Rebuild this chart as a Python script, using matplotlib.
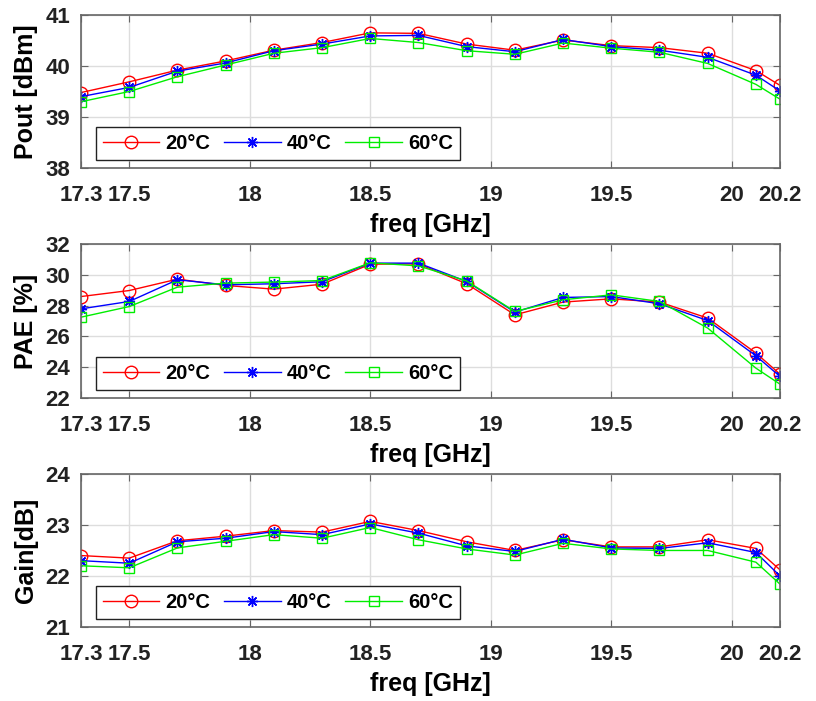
import matplotlib
matplotlib.use('Agg')
import matplotlib.pyplot as plt

# frequency points [GHz]
freq = [17.3, 17.5, 17.7, 17.9, 18.1, 18.3, 18.5, 18.7, 18.9, 19.1, 19.3, 19.5, 19.7, 19.9, 20.1, 20.2]

# Pout [dBm]
pout_20 = [39.48, 39.69, 39.92, 40.10, 40.31, 40.46, 40.65, 40.64, 40.43, 40.31, 40.51, 40.40, 40.36, 40.25, 39.91, 39.62]
pout_40 = [39.40, 39.58, 39.90, 40.06, 40.30, 40.43, 40.59, 40.60, 40.38, 40.28, 40.52, 40.38, 40.31, 40.17, 39.82, 39.51]
pout_60 = [39.30, 39.50, 39.79, 40.02, 40.25, 40.36, 40.54, 40.46, 40.30, 40.23, 40.45, 40.35, 40.27, 40.05, 39.64, 39.35]

# PAE [%]
pae_20 = [28.59, 28.98, 29.72, 29.31, 29.07, 29.39, 30.69, 30.71, 29.42, 27.40, 28.23, 28.44, 28.23, 27.19, 24.92, 23.55]
pae_40 = [27.79, 28.27, 29.68, 29.35, 29.42, 29.55, 30.76, 30.76, 29.57, 27.58, 28.53, 28.59, 28.12, 27.03, 24.74, 23.40]
pae_60 = [27.25, 27.94, 29.20, 29.46, 29.53, 29.63, 30.78, 30.58, 29.60, 27.62, 28.38, 28.70, 28.27, 26.54, 23.94, 22.90]

# Gain [dB]
gain_20 = [22.40, 22.35, 22.69, 22.78, 22.89, 22.86, 23.07, 22.89, 22.67, 22.50, 22.71, 22.57, 22.57, 22.71, 22.54, 22.12]
gain_40 = [22.30, 22.25, 22.67, 22.74, 22.87, 22.81, 23.02, 22.84, 22.59, 22.48, 22.72, 22.55, 22.54, 22.65, 22.46, 22.00]
gain_60 = [22.20, 22.16, 22.55, 22.68, 22.81, 22.74, 22.95, 22.71, 22.53, 22.41, 22.64, 22.53, 22.50, 22.50, 22.27, 21.84]

labels = ['20°C', '40°C', '60°C']
xticks = [17.3, 17.5, 18, 18.5, 19, 19.5, 20, 20.2]
xticklabels = ['17.3', '17.5', '18', '18.5', '19', '19.5', '20', '20.2']

panels = [
    ('Pout [dBm]', [pout_20, pout_40, pout_60], (38, 41), [38, 39, 40, 41]),
    ('PAE [%]', [pae_20, pae_40, pae_60], (22, 32), [22, 24, 26, 28, 30, 32]),
    ('Gain[dB]', [gain_20, gain_40, gain_60], (21, 24), [21, 22, 23, 24]),
]

# matlab-like markers: open circle, asterisk, open square
styles = [
    dict(color='red', marker='o', markersize=9, markerfacecolor='none'),
    dict(color='blue', marker=(8, 2, 0), markersize=8),
    dict(color='#00ee00', marker='s', markersize=7, markerfacecolor='none'),
]

fig = plt.figure(figsize=(8.16, 7.01), dpi=100)
positions = [
    [0.0993, 0.7603, 0.8566, 0.2183],
    [0.0993, 0.4322, 0.8566, 0.2197],
    [0.0993, 0.1056, 0.8566, 0.2183],
]

fam = ['Liberation Sans', 'DejaVu Sans']
tick_font = dict(family=fam, size=16, weight='bold')
label_font = dict(family=fam, size=18, weight='bold')

for pos, (ylabel, series, ylim, yticks) in zip(positions, panels):
    ax = fig.add_axes(pos)
    for vals, lab, st in zip(series, labels, styles):
        ax.plot(freq, vals, linewidth=1.0, label=lab, markeredgewidth=1.0, **st)
    ax.set_xlim(17.3, 20.2)
    ax.set_ylim(*ylim)
    ax.set_xticks(xticks)
    ax.set_xticklabels(xticklabels, fontdict=tick_font, color='#222222')
    ax.set_yticks(yticks)
    ax.set_yticklabels([str(t) for t in yticks], fontdict=tick_font, color='#222222')
    ax.grid(True, color='#dddddd', linewidth=1.0)
    ax.set_axisbelow(True)
    ax.tick_params(direction='in', top=True, right=True, length=5, color='#666666')
    ax.tick_params(axis='x', pad=12)
    ax.tick_params(axis='y', pad=8)
    for sp in ax.spines.values():
        sp.set_color('#666666')
        sp.set_linewidth(1.2)
    ax.set_xlabel('freq [GHz]', fontdict=label_font, labelpad=5)
    ax.set_ylabel(ylabel, fontdict=label_font, labelpad=5)
    leg = ax.legend(loc='lower left', bbox_to_anchor=(0.021, 0.05), ncol=3,
                    prop=dict(family=fam, size=14.5, weight='bold'),
                    frameon=True, fancybox=False, framealpha=1, edgecolor='#222222',
                    handlelength=2.8, columnspacing=0.7, handletextpad=0.3,
                    borderpad=0.35, borderaxespad=0)
    leg.get_frame().set_linewidth(1.0)

fig.savefig('out.png', dpi=100)
